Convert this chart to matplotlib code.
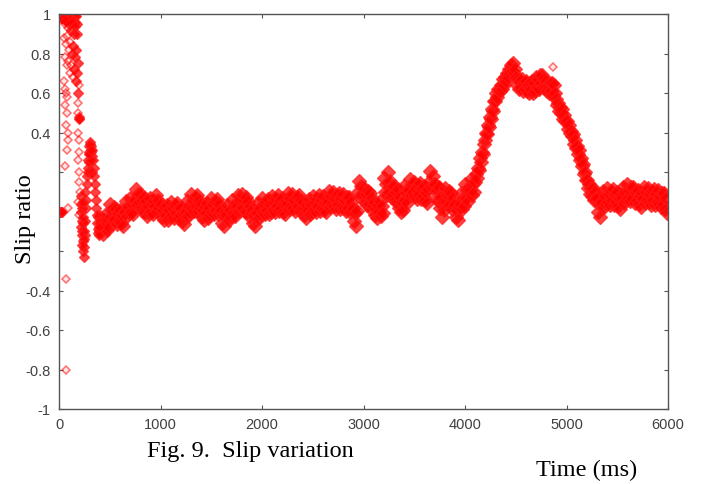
import numpy as np
import matplotlib
matplotlib.use("Agg")
import matplotlib.pyplot as plt

# ---------------- DATI ----------------
# transitorio iniziale, zona densa (ms, slip)
t_trans = [0, 8, 16, 24, 32,
           10, 20, 30, 40, 50, 60, 70, 80, 90, 100, 110, 120, 130, 140, 150, 160, 170,
           15, 35, 55, 75, 95, 115, 135, 155, 175,
           100, 115, 130, 145, 160, 175,
           125, 140, 155, 170, 185,
           150, 165, 180, 190, 200, 195,
           215, 220, 225, 230, 235, 240, 245, 250, 255, 220, 230, 240, 250, 260, 265, 270, 260, 275,
           225, 235, 245, 215, 228, 238,
           280, 285, 290, 295, 300, 305, 310, 315, 320, 325, 330, 335, 340,
           290, 300, 310, 320, 330, 300, 315,
           345, 350, 355, 360, 365, 370, 375, 380, 385, 390, 395]
slip_trans = [0, 0, 0, 0, 0,
              1.0, 1.0, 1.0, 1.0, 1.0, 1.0, 1.0, 1.0, 1.0, 1.0, 1.0, 1.0, 1.0, 1.0, 1.0, 0.99, 0.99,
              0.98, 0.98, 0.97, 0.98, 0.97, 0.98, 0.97, 0.96, 0.95,
              0.95, 0.92, 0.96, 0.90, 0.94, 0.90,
              0.80, 0.84, 0.78, 0.82, 0.75,
              0.72, 0.66, 0.70, 0.60, 0.48, 0.47,
              0.08, 0.0, -0.05, -0.10, -0.15, -0.20, -0.23, -0.18, -0.12, -0.08, 0.02, -0.06, -0.10, -0.05, 0.02, 0.06, 0.10, 0.14,
              -0.12, -0.03, -0.14, 0.04, -0.17, 0.05,
              0.18, 0.22, 0.26, 0.30, 0.33, 0.35, 0.34, 0.30, 0.33, 0.28, 0.31, 0.26, 0.22,
              0.20, 0.25, 0.29, 0.26, 0.20, 0.29, 0.31,
              0.18, 0.14, 0.10, 0.06, 0.02, -0.02, -0.06, -0.09, -0.11, -0.08, -0.12]

# punti isolati
t_iso = [40, 55, 70, 85, 50, 65, 80, 95, 110, 60, 75, 90, 105, 120, 135,
         45, 60, 70, 80, 55, 75, 65, 90, 85, 80, 60, 90, 70, 70,
         195, 185, 190, 205, 190, 200, 195, 190, 200, 195, 205, 190, 200,
         4870]
slip_iso = [0.97, 0.95, 0.96, 0.93, 0.88, 0.85, 0.89, 0.82, 0.86, 0.78, 0.74, 0.76, 0.70, 0.74, 0.68,
            0.66, 0.62, 0.60, 0.58, 0.54, 0.50, 0.44, 0.40, 0.36, 0.31, 0.23, 0.02, -0.34, -0.80,
            0.64, 0.55, 0.50, 0.47, 0.40, 0.36, 0.30, 0.26, 0.20, 0.15, 0.10, 0.05, -0.02,
            0.73]

# regime: campioni ogni 10 ms da 400 a 5990 ms (una riga = 100 ms)
slip_main = [
    -0.03, -0.10, -0.06, -0.115, -0.045, -0.07, -0.015, -0.095, -0.04, -0.08,   # 400
    0.04, -0.03, 0.01, -0.045, 0.025, -0.04, 0.015, -0.065, -0.01, -0.05,       # 500
    0.01, -0.06, -0.02, -0.075, -0.005, 0.0, 0.055, -0.025, 0.03, -0.01,        # 600
    0.07, 0.0, 0.04, -0.015, 0.055, 0.06, 0.115, 0.035, 0.09, 0.05,             # 700
    0.09, 0.02, 0.06, 0.005, 0.075, 0.0, 0.055, -0.025, 0.03, -0.01,            # 800
    0.07, 0.0, 0.04, -0.015, 0.055, 0.03, 0.085, 0.005, 0.06, 0.02,             # 900
    0.04, -0.03, 0.01, -0.045, 0.025, -0.02, 0.035, -0.045, 0.01, -0.03,        # 1000
    0.05, -0.02, 0.02, -0.035, 0.035, -0.01, 0.045, -0.035, 0.02, -0.02,        # 1100
    0.02, -0.05, -0.01, -0.065, 0.005, 0.0, 0.055, -0.025, 0.03, -0.01,         # 1200
    0.09, 0.02, 0.06, 0.005, 0.075, 0.03, 0.085, 0.005, 0.06, 0.02,             # 1300
    0.04, -0.03, 0.01, -0.045, 0.025, -0.01, 0.045, -0.035, 0.02, -0.02,        # 1400
    0.07, 0.0, 0.04, -0.015, 0.055, 0.01, 0.065, -0.015, 0.04, 0.0,             # 1500
    0.01, -0.06, -0.02, -0.075, -0.005, -0.02, 0.035, -0.045, 0.01, -0.03,      # 1600
    0.06, -0.01, 0.03, -0.025, 0.045, 0.03, 0.085, 0.005, 0.06, 0.02,           # 1700
    0.09, 0.02, 0.06, 0.005, 0.075, 0.0, 0.055, -0.025, 0.03, -0.01,            # 1800
    0.01, -0.06, -0.02, -0.075, -0.005, -0.01, 0.045, -0.035, 0.02, -0.02,      # 1900
    0.07, 0.0, 0.04, -0.015, 0.055, 0.01, 0.065, -0.015, 0.04, 0.0,             # 2000
    0.08, 0.01, 0.05, -0.005, 0.065, 0.03, 0.085, 0.005, 0.06, 0.02,            # 2100
    0.07, 0.0, 0.04, -0.015, 0.055, 0.04, 0.095, 0.015, 0.07, 0.03,             # 2200
    0.09, 0.02, 0.06, 0.005, 0.075, 0.03, 0.085, 0.005, 0.06, 0.02,             # 2300
    0.05, -0.02, 0.02, -0.035, 0.035, 0.01, 0.065, -0.015, 0.04, 0.0,           # 2400
    0.08, 0.01, 0.05, -0.005, 0.065, 0.03, 0.085, 0.005, 0.06, 0.02,            # 2500
    0.08, 0.01, 0.05, -0.005, 0.065, 0.05, 0.105, 0.025, 0.08, 0.04,            # 2600
    0.10, 0.03, 0.07, 0.015, 0.085, 0.04, 0.095, 0.015, 0.07, 0.03,             # 2700
    0.09, 0.02, 0.06, 0.005, 0.075, 0.02, 0.075, -0.005, 0.05, 0.01,            # 2800
    0.02, -0.05, -0.01, -0.075, 0.005, 0.10, 0.155, 0.075, 0.13, 0.09,          # 2900
    0.12, 0.05, 0.09, 0.035, 0.105, 0.04, 0.095, 0.015, 0.07, 0.03,             # 3000
    0.05, -0.02, 0.02, -0.035, 0.035, 0.0, 0.055, -0.025, 0.03, -0.01,          # 3100
    0.17, 0.10, 0.14, 0.085, 0.20, 0.10, 0.155, 0.075, 0.13, 0.09,              # 3200
    0.13, 0.06, 0.10, 0.045, 0.115, 0.02, 0.075, -0.005, 0.05, 0.01,            # 3300
    0.13, 0.06, 0.10, 0.045, 0.115, 0.11, 0.165, 0.085, 0.14, 0.10,             # 3400
    0.15, 0.08, 0.12, 0.065, 0.135, 0.09, 0.145, 0.065, 0.12, 0.08,             # 3500
    0.13, 0.06, 0.10, 0.045, 0.115, 0.15, 0.205, 0.125, 0.18, 0.14,             # 3600
    0.14, 0.07, 0.11, 0.055, 0.125, 0.02, 0.075, -0.03, 0.05, 0.01,             # 3700
    0.12, 0.05, 0.09, 0.035, 0.105, 0.04, 0.095, 0.015, 0.07, 0.03,             # 3800
    0.04, -0.03, 0.01, -0.045, 0.025, 0.04, 0.095, 0.015, 0.07, 0.03,           # 3900
    0.14, 0.07, 0.11, 0.055, 0.125, 0.11, 0.165, 0.085, 0.14, 0.10,             # 4000
    0.15, 0.19, 0.17, 0.22, 0.21, 0.27, 0.25, 0.30, 0.29, 0.34,                 # 4100
    0.36, 0.40, 0.39, 0.44, 0.43, 0.48, 0.47, 0.52, 0.51, 0.56,                 # 4200
    0.56, 0.60, 0.58, 0.62, 0.61, 0.64, 0.62, 0.67, 0.64, 0.68,                 # 4300
    0.66, 0.70, 0.68, 0.72, 0.70, 0.74, 0.71, 0.75, 0.70, 0.72,                 # 4400
    0.68, 0.64, 0.67, 0.62, 0.66, 0.63, 0.67, 0.61, 0.65, 0.62,                 # 4500
    0.66, 0.61, 0.64, 0.60, 0.65, 0.62, 0.66, 0.60, 0.65, 0.61,                 # 4600
    0.68, 0.63, 0.67, 0.62, 0.69, 0.65, 0.69, 0.63, 0.67, 0.64,                 # 4700
    0.66, 0.61, 0.64, 0.60, 0.65, 0.61, 0.65, 0.59, 0.64, 0.60,                 # 4800
    0.57, 0.54, 0.55, 0.51, 0.53, 0.50, 0.52, 0.47, 0.49, 0.46,                 # 4900
    0.46, 0.42, 0.44, 0.40, 0.41, 0.38, 0.39, 0.34, 0.36, 0.32,                 # 5000
    0.33, 0.29, 0.31, 0.26, 0.27, 0.23, 0.24, 0.19, 0.20, 0.16,                 # 5100
    0.16, 0.12, 0.14, 0.09, 0.12, 0.08, 0.12, 0.06, 0.10, 0.07,                 # 5200
    0.07, 0.0, 0.04, -0.03, 0.05, 0.05, 0.105, 0.025, 0.08, 0.04,               # 5300
    0.12, 0.05, 0.09, 0.035, 0.105, 0.06, 0.115, 0.035, 0.09, 0.05,             # 5400
    0.10, 0.03, 0.07, 0.015, 0.085, 0.07, 0.125, 0.045, 0.10, 0.06,             # 5500
    0.14, 0.07, 0.11, 0.055, 0.125, 0.07, 0.125, 0.045, 0.10, 0.06,             # 5600
    0.11, 0.04, 0.08, 0.025, 0.095, 0.07, 0.125, 0.045, 0.10, 0.06,             # 5700
    0.12, 0.05, 0.09, 0.035, 0.105, 0.06, 0.115, 0.035, 0.09, 0.05,             # 5800
    0.11, 0.04, 0.08, 0.025, 0.095, 0.04, 0.095, 0.015, 0.07, -0.01,            # 5900
]
t_main = np.arange(400, 400 + 10 * len(slip_main), 10)

x_ticks = [0, 1000, 2000, 3000, 4000, 5000, 6000]
y_ticks = [1, 0.8, 0.6, 0.4, 0.2, 0, -0.2, -0.4, -0.6, -0.8, -1]
y_labels = ["1", "0.8", "0.6", "0.4", "", "", "", "-0.4", "-0.6", "-0.8", "-1"]

# ---------------- GRAFICO ----------------
fig = plt.figure(figsize=(7.01, 4.85), dpi=100)
ax = fig.add_axes([59 / 701, 1 - 410 / 485, 609 / 701, 395 / 485])

denso = dict(linestyle='none', marker='D', markersize=7,
             markerfacecolor=(1, 0, 0, 0.75), markeredgecolor=(1, 0.1, 0.1, 0.7), markeredgewidth=1.0)
ax.plot(t_main, slip_main, **denso)
ax.plot(t_trans, slip_trans, **dict(denso, markersize=5.5))
# punti isolati (rombi vuoti rosa)
ax.plot(t_iso, slip_iso, linestyle='none', marker='D', markersize=4.5,
        markerfacecolor=(1, 0, 0, 0.1), markeredgecolor=(1, 0, 0, 0.55), markeredgewidth=1.1)

ax.set_xlim(0, 6000)
ax.set_ylim(-1, 1)
ax.set_xticks(x_ticks)
ax.set_xticklabels([str(v) for v in x_ticks])
ax.set_yticks(y_ticks)
ax.set_yticklabels(y_labels)

grey = '#555555'
for sp in ax.spines.values():
    sp.set_color(grey)
    sp.set_linewidth(1.0)
ax.tick_params(direction='in', length=3, width=0.8, color=grey, labelcolor='#404040',
               labelsize=10.5, top=True, right=True, pad=6)
for lab in ax.get_xticklabels() + ax.get_yticklabels():
    lab.set_family('Liberation Sans')

fig.text(25 / 701, 1 - 219 / 485, "Slip ratio", rotation=90, ha='center', va='center',
         family='Liberation Serif', fontsize=17.5)
fig.text(147 / 701, 1 - 452 / 485, "Fig. 9.  Slip variation", ha='left', va='center',
         family='Liberation Serif', fontsize=17.5)
fig.text(587 / 701, 1 - 470 / 485, "Time (ms)", ha='center', va='center',
         family='Liberation Serif', fontsize=17.5)

fig.savefig("out.png", dpi=100)
